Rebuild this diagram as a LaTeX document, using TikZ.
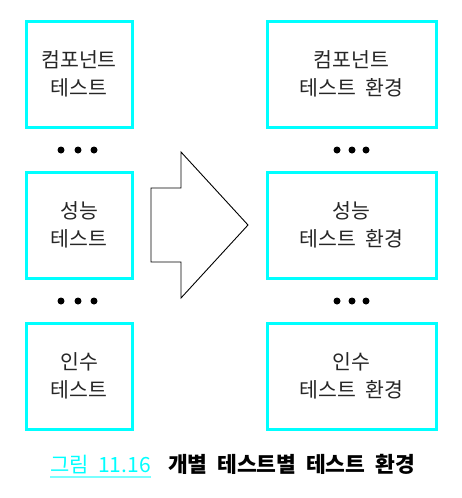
\documentclass[tikz,border=0pt]{standalone}
\usepackage{fontspec}
\setmainfont{Noto Sans CJK KR}
\definecolor{boxcyan}{RGB}{0,255,255}
\definecolor{linecyan}{RGB}{120,255,255}
\newcommand{\wsp}{\hspace{0.45em}}
\begin{document}
\begin{tikzpicture}[x=1pt,y=-1pt,
  tbox/.style={draw=boxcyan,line width=3pt,fill=white,minimum height=106pt,
    align=center,font=\fontsize{20.5}{28}\selectfont,text=black!85,inner sep=0pt},
  lbox/.style={tbox,minimum width=106pt},
  rbox/.style={tbox,minimum width=169pt},
  dot/.style={circle,fill=black,minimum size=7pt,inner sep=0pt}]
\useasboundingbox (0,0) rectangle (461,498);
\node[lbox] (l1) at (79,74) {컴포넌트\\테스트};
\node[lbox] (l2) at (79,225) {성능\\테스트};
\node[lbox] (l3) at (79,376) {인수\\테스트};
\node[rbox] (r1) at (351.5,74) {컴포넌트\\테스트\wsp 환경};
\node[rbox] (r2) at (351.5,225) {성능\\테스트\wsp 환경};
\node[rbox] (r3) at (351.5,376) {인수\\테스트\wsp 환경};
\foreach \n/\x/\y in {a/61/150,b/78/150,c/94/150,d/61/301,e/78/301,f/94/301,
  g/337/150,h/352/150,i/366/150,j/337/301,k/352/301,m/366/301}
  \node[dot] (d\n) at (\x,\y) {};
\draw[line width=0.9pt,line join=miter] (151,188) -- (181,188) -- (181,152) -- (248,225)
  -- (181,298) -- (181,262) -- (151,262) -- cycle;
\node[anchor=base west,inner sep=0pt,text=boxcyan,font=\fontsize{21}{21}\selectfont] (cap1) at (50,472) {그림\wsp 11.16};
\draw[linecyan,line width=1.6pt] (cap1.base west) ++(0,5) coordinate (u1) -- (cap1.base east |- u1);
\node[anchor=base west,inner sep=0pt,font=\fontsize{21.5}{21}\selectfont\bfseries] (cap2) at (168,472) {개별\wsp 테스트별\wsp 테스트\wsp 환경};
\end{tikzpicture}
\end{document}
